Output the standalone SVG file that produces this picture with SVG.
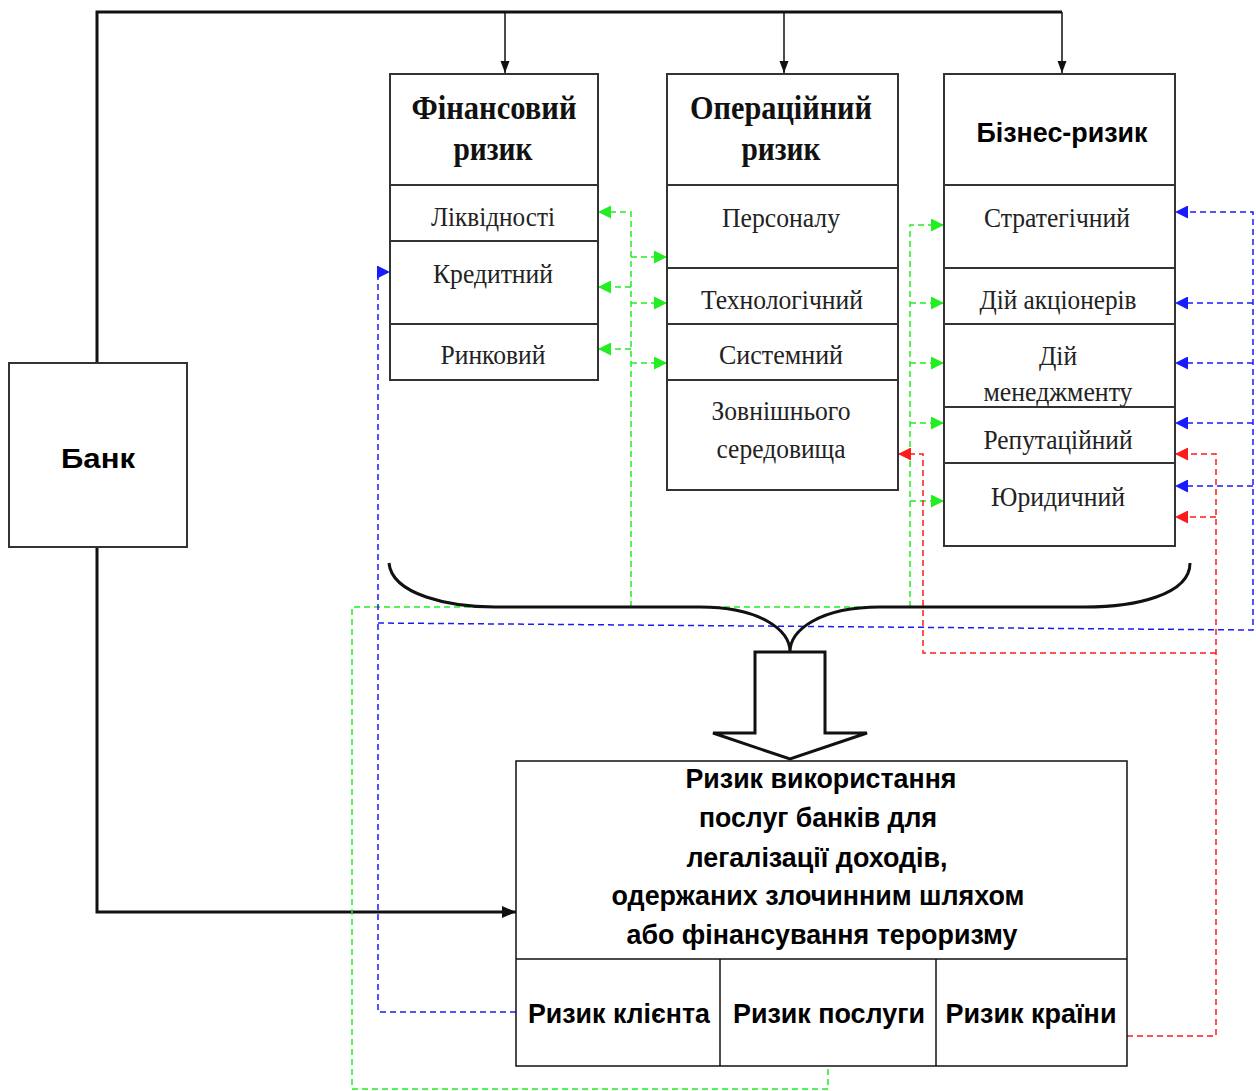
<svg xmlns="http://www.w3.org/2000/svg" width="1256" height="1091" viewBox="0 0 1256 1091">
<style>
.box{fill:#fff;stroke:#333;stroke-width:2}
.sep{stroke:#333;stroke-width:2}
.hs{font-family:"Liberation Serif","Times New Roman",serif;font-weight:bold;font-size:34px;fill:#111;text-anchor:middle}
.rs{font-family:"Liberation Serif","Times New Roman",serif;font-size:27px;fill:#222;text-anchor:middle}
.bs{font-family:"Liberation Sans",Arial,sans-serif;font-weight:bold;font-size:28px;fill:#000;text-anchor:middle}
.thick{fill:none;stroke:#111;stroke-width:3}
.thin{fill:none;stroke:#111;stroke-width:1.5}
.g{fill:none;stroke:#22ee22;stroke-width:1.5;stroke-dasharray:6 4}
.b{fill:none;stroke:#1a1aff;stroke-width:1.5;stroke-dasharray:6 4}
.r{fill:none;stroke:#ff1a1a;stroke-width:1.5;stroke-dasharray:6 4}
</style>
<defs>
<marker id="ak" markerUnits="userSpaceOnUse" markerWidth="12" markerHeight="16" refX="16" refY="6" orient="auto" viewBox="0 0 16 12"><path d="M0,0 L16,6 L0,12 Z" fill="#111"/></marker>
<marker id="akb" markerUnits="userSpaceOnUse" markerWidth="14" markerHeight="12" refX="14" refY="6" orient="auto" viewBox="0 0 14 12"><path d="M0,0 L14,6 L0,12 Z" fill="#111"/></marker>
<marker id="ag" markerUnits="userSpaceOnUse" markerWidth="13" markerHeight="13" refX="13" refY="6.5" orient="auto" viewBox="0 0 13 13"><path d="M0,0 L13,6.5 L0,13 Z" fill="#22ee22"/></marker>
<marker id="ab" markerUnits="userSpaceOnUse" markerWidth="13" markerHeight="13" refX="13" refY="6.5" orient="auto" viewBox="0 0 13 13"><path d="M0,0 L13,6.5 L0,13 Z" fill="#1a1aff"/></marker>
<marker id="ar" markerUnits="userSpaceOnUse" markerWidth="13" markerHeight="13" refX="13" refY="6.5" orient="auto" viewBox="0 0 13 13"><path d="M0,0 L13,6.5 L0,13 Z" fill="#ff1a1a"/></marker>
</defs>
<rect width="1256" height="1091" fill="#fff"/>

<g id="connectors">
<path class="thick" d="M97,363 V12 H1062"/>
<path class="thin" d="M505,12 V73" marker-end="url(#ak)"/>
<path class="thin" d="M784,12 V73" marker-end="url(#ak)"/>
<path class="thin" d="M1062,12 V73" marker-end="url(#ak)"/>
<path class="thick" d="M97,547 V912 H516" marker-end="url(#akb)"/>
<path class="g" d="M631,607 V212 H598" marker-end="url(#ag)"/>
<path class="g" d="M631,287 H598" marker-end="url(#ag)"/>
<path class="g" d="M631,349 H598" marker-end="url(#ag)"/>
<path class="g" d="M631,257 H667" marker-end="url(#ag)"/>
<path class="g" d="M631,303 H667" marker-end="url(#ag)"/>
<path class="g" d="M631,363 H667" marker-end="url(#ag)"/>
<path class="g" d="M910,607 V225 H944" marker-end="url(#ag)"/>
<path class="g" d="M910,303 H944" marker-end="url(#ag)"/>
<path class="g" d="M910,363 H944" marker-end="url(#ag)"/>
<path class="g" d="M910,423 H944" marker-end="url(#ag)"/>
<path class="g" d="M910,501 H944" marker-end="url(#ag)"/>
<path class="g" d="M910,607 H352 V1089 H828 V1066"/>
<path class="b" d="M516,1012 H378 V272 H390" marker-end="url(#ab)"/>
<path class="b" d="M378,623 L1253,630 V212 H1175" marker-end="url(#ab)"/>
<path class="b" d="M1253,303 H1175" marker-end="url(#ab)"/>
<path class="b" d="M1253,363 H1175" marker-end="url(#ab)"/>
<path class="b" d="M1253,423 H1175" marker-end="url(#ab)"/>
<path class="b" d="M1253,486 H1175" marker-end="url(#ab)"/>
<path class="r" d="M1127,1036 H1216 V454 H1175" marker-end="url(#ar)"/>
<path class="r" d="M1216,517 H1175" marker-end="url(#ar)"/>
<path class="r" d="M1216,653 H923 V454 H898" marker-end="url(#ar)"/>
<path fill="none" stroke="#111" stroke-width="3" d="M389,563 C392,595 450,607 495,607 L700,607 C760,607 790,630 790,652 C790,630 820,607 880,607 L1085,607 C1135,607 1190,595 1190,563"/>
<polygon points="755,652 825,652 825,733 867,733 790,759 713,733 755,733" fill="#fff" stroke="#111" stroke-width="3"/>
</g>

<g id="bank">
<rect class="box" x="9" y="363" width="178" height="184"/>
<text class="bs" x="98" y="468" font-size="34" textLength="74" lengthAdjust="spacingAndGlyphs">Банк</text>
</g>

<g id="financial">
<rect class="box" x="390" y="74" width="208" height="306"/>
<line class="sep" x1="390" y1="185" x2="598" y2="185"/>
<line class="sep" x1="390" y1="241" x2="598" y2="241"/>
<line class="sep" x1="390" y1="324" x2="598" y2="324"/>
<text class="hs" x="494" y="119" textLength="165" lengthAdjust="spacingAndGlyphs">Фінансовий</text>
<text class="hs" x="493" y="160" textLength="79" lengthAdjust="spacingAndGlyphs">ризик</text>
<text class="rs" x="493" y="226" textLength="124" lengthAdjust="spacingAndGlyphs">Ліквідності</text>
<text class="rs" x="493" y="283" textLength="120" lengthAdjust="spacingAndGlyphs">Кредитний</text>
<text class="rs" x="493" y="364" textLength="105" lengthAdjust="spacingAndGlyphs">Ринковий</text>
</g>

<g id="operational">
<rect class="box" x="667" y="74" width="231" height="416"/>
<line class="sep" x1="667" y1="185" x2="898" y2="185"/>
<line class="sep" x1="667" y1="268" x2="898" y2="268"/>
<line class="sep" x1="667" y1="324" x2="898" y2="324"/>
<line class="sep" x1="667" y1="380" x2="898" y2="380"/>
<text class="hs" x="781" y="119" textLength="182" lengthAdjust="spacingAndGlyphs">Операційний</text>
<text class="hs" x="781" y="160" textLength="79" lengthAdjust="spacingAndGlyphs">ризик</text>
<text class="rs" x="781" y="227" textLength="118" lengthAdjust="spacingAndGlyphs">Персоналу</text>
<text class="rs" x="782" y="309" textLength="162" lengthAdjust="spacingAndGlyphs">Технологічний</text>
<text class="rs" x="781" y="364" textLength="124" lengthAdjust="spacingAndGlyphs">Системний</text>
<text class="rs" x="781" y="420" textLength="139" lengthAdjust="spacingAndGlyphs">Зовнішнього</text>
<text class="rs" x="781" y="458" textLength="129" lengthAdjust="spacingAndGlyphs">середовища</text>
</g>

<g id="business">
<rect class="box" x="944" y="74" width="231" height="472"/>
<line class="sep" x1="944" y1="185" x2="1175" y2="185"/>
<line class="sep" x1="944" y1="268" x2="1175" y2="268"/>
<line class="sep" x1="944" y1="324" x2="1175" y2="324"/>
<line class="sep" x1="944" y1="407" x2="1175" y2="407"/>
<line class="sep" x1="944" y1="463" x2="1175" y2="463"/>
<text class="bs" x="1062" y="142" font-size="30" textLength="171" lengthAdjust="spacingAndGlyphs">Бізнес-ризик</text>
<text class="rs" x="1057" y="227" textLength="146" lengthAdjust="spacingAndGlyphs">Стратегічний</text>
<text class="rs" x="1058" y="309" textLength="157" lengthAdjust="spacingAndGlyphs">Дій акціонерів</text>
<text class="rs" x="1058" y="365" textLength="38" lengthAdjust="spacingAndGlyphs">Дій</text>
<text class="rs" x="1058" y="401" textLength="149" lengthAdjust="spacingAndGlyphs">менеджменту</text>
<text class="rs" x="1058" y="449" textLength="149" lengthAdjust="spacingAndGlyphs">Репутаційний</text>
<text class="rs" x="1058" y="506" textLength="134" lengthAdjust="spacingAndGlyphs">Юридичний</text>
</g>

<g id="aml-risk">
<rect x="516" y="761" width="611" height="305" fill="#fff" stroke="#111" stroke-width="1.5"/>
<line x1="516" y1="959" x2="1127" y2="959" stroke="#111" stroke-width="1.5"/>
<line x1="720" y1="959" x2="720" y2="1066" stroke="#111" stroke-width="1.5"/>
<line x1="936" y1="959" x2="936" y2="1066" stroke="#111" stroke-width="1.5"/>
<text class="bs" x="821" y="788" textLength="271" lengthAdjust="spacingAndGlyphs">Ризик використання</text>
<text class="bs" x="818" y="827" textLength="238" lengthAdjust="spacingAndGlyphs">послуг банків для</text>
<text class="bs" x="817" y="867" textLength="261" lengthAdjust="spacingAndGlyphs">легалізації доходів,</text>
<text class="bs" x="818" y="905" textLength="413" lengthAdjust="spacingAndGlyphs">одержаних злочинним шляхом</text>
<text class="bs" x="822" y="944" textLength="391" lengthAdjust="spacingAndGlyphs">або фінансування тероризму</text>
<text class="bs" x="619" y="1023" font-size="31" textLength="182" lengthAdjust="spacingAndGlyphs">Ризик клієнта</text>
<text class="bs" x="829" y="1023" font-size="31" textLength="192" lengthAdjust="spacingAndGlyphs">Ризик послуги</text>
<text class="bs" x="1031" y="1023" font-size="31" textLength="171" lengthAdjust="spacingAndGlyphs">Ризик країни</text>
</g>
</svg>
